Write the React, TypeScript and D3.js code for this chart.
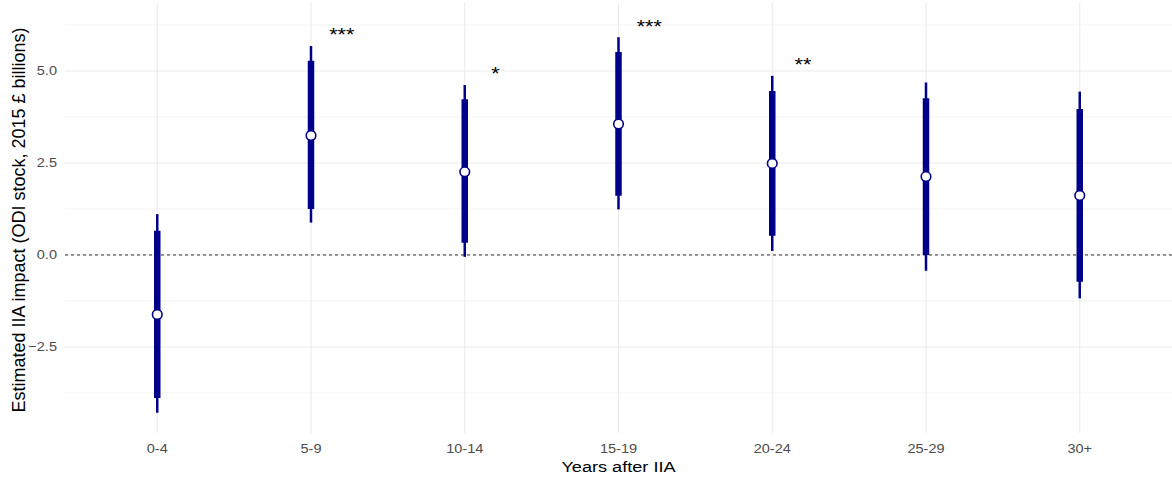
import React from 'react';
import * as d3 from 'd3';

const categories = ['0-4', '5-9', '10-14', '15-19', '20-24', '25-29', '30+'];
const estimates = [-1.62, 3.25, 2.26, 3.56, 2.49, 2.13, 1.62];
const lower90 = [-3.89, 1.25, 0.33, 1.61, 0.52, 0.0, -0.73];
const upper90 = [0.66, 5.28, 4.23, 5.52, 4.46, 4.26, 3.97];
const lower95 = [-4.29, 0.88, -0.05, 1.24, 0.11, -0.43, -1.18];
const upper95 = [1.11, 5.68, 4.62, 5.92, 4.87, 4.69, 4.44];
const stars = ['', '***', '*', '***', '**', '', ''];
const yTicks = [-2.5, 0, 2.5, 5];
const yMinor = [-3.75, -1.25, 1.25, 3.75, 6.25];

const W = 1172, H = 481;
const margin = { left: 65, right: 0, top: 3, bottom: 48 };

// the reference image is slightly stretched horizontally
const stretch = (x: number, y: number, s: number) => `translate(${x},${y}) scale(${s},1)`;

const App = () => {
  const x = d3.scalePoint<string>()
    .domain(categories)
    .range([margin.left, W - margin.right])
    .padding(0.6);
  const y = d3.scaleLinear()
    .domain([-4.84, 6.85])
    .range([H - margin.bottom, margin.top]);
  const step = x.step();
  const font = '"Liberation Sans", Arial, sans-serif';
  const panelBottom = H - margin.bottom;

  return (
    <svg width={W} height={H} style={{ position: 'absolute', left: 0, top: 0, background: '#fff' }} fontFamily={font}>
      {/* grid */}
      {yMinor.map(t => (
        <line key={'mn' + t} x1={margin.left} x2={W - margin.right} y1={y(t)} y2={y(t)} stroke="#ebebeb" strokeWidth={0.6} />
      ))}
      {yTicks.map(t => (
        <line key={'mj' + t} x1={margin.left} x2={W - margin.right} y1={y(t)} y2={y(t)} stroke="#ebebeb" strokeWidth={1.1} />
      ))}
      {categories.map(c => (
        <line key={'vx' + c} x1={x(c)} x2={x(c)} y1={margin.top} y2={panelBottom} stroke="#ebebeb" strokeWidth={1.1} />
      ))}
      {/* zero line */}
      <line x1={margin.left} x2={W - margin.right} y1={y(0)} y2={y(0)} stroke="#000" strokeWidth={0.8} strokeDasharray="3,3" />
      {/* intervals */}
      {categories.map((c, i) => (
        <g key={'ci' + c}>
          <line x1={x(c)} x2={x(c)} y1={y(lower95[i])} y2={y(upper95[i])} stroke="#00008b" strokeWidth={2.5} />
          <line x1={x(c)} x2={x(c)} y1={y(lower90[i])} y2={y(upper90[i])} stroke="#00008b" strokeWidth={6.5} />
          <circle cx={x(c)} cy={y(estimates[i])} r={4.8} fill="#fff" stroke="#00008b" strokeWidth={1.6} />
          {stars[i] && (
            <text transform={stretch((x(c) as number) + step * 0.2, y(upper95[i] + 0.38) + 3, 1.2)} textAnchor="middle" dominantBaseline="central" fontSize={18} fill="#000">
              {stars[i]}
            </text>
          )}
        </g>
      ))}
      {/* y axis labels */}
      {yTicks.map(t => (
        <text key={'yl' + t} transform={stretch(57, y(t), 1.12)} textAnchor="end" dominantBaseline="central" fontSize={13} fill="#4d4d4d">
          {d3.format('.1f')(t)}
        </text>
      ))}
      {/* x axis labels */}
      {categories.map(c => (
        <text key={'xl' + c} transform={stretch(x(c) as number, 449, 1.12)} textAnchor="middle" dominantBaseline="central" fontSize={13} fill="#4d4d4d">
          {c}
        </text>
      ))}
      <text transform={stretch((margin.left + W - margin.right) / 2, 467, 1.17)} textAnchor="middle" dominantBaseline="central" fontSize={15.5} fill="#000">
        Years after IIA
      </text>
      <text transform={`translate(19,${(margin.top + panelBottom) / 2 + 2}) rotate(-90)`} textAnchor="middle" dominantBaseline="central" fontSize={18} fill="#000">
        Estimated IIA impact (ODI stock, 2015 £ billions)
      </text>
    </svg>
  );
};

export default App;
